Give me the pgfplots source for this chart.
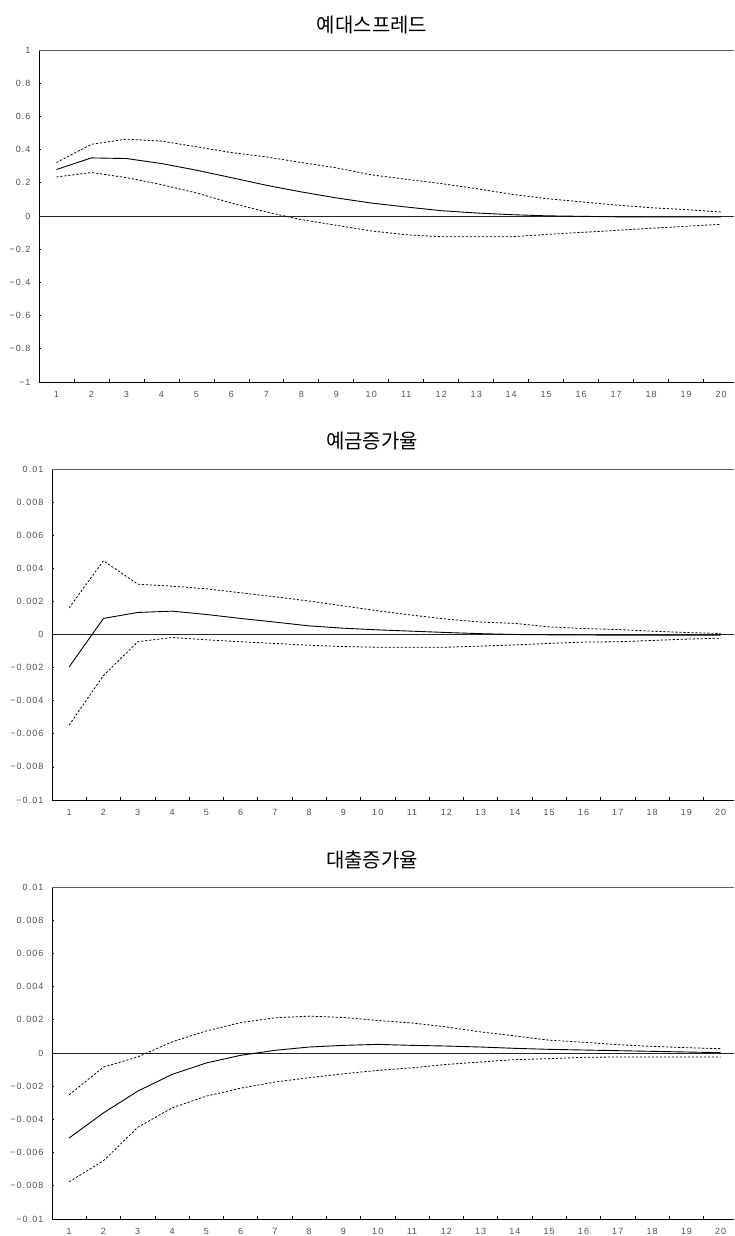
\documentclass[border=0pt]{standalone}
\usepackage{fontspec}
\usepackage{pgfplots}
\usepackage{pgfplotstable}
\pgfplotsset{compat=1.18}
\setmainfont{Liberation Sans}
\newfontfamily\tickfont[LetterSpace=12]{Liberation Sans}
\newfontfamily\krfont{Noto Sans CJK KR}
\definecolor{ticklab}{HTML}{505050}
\definecolor{topline}{HTML}{606060}

\pgfplotstableread{
x c u l
1 0.280 0.322 0.235
2 0.350 0.432 0.262
3 0.346 0.463 0.231
4 0.316 0.451 0.189
5 0.276 0.417 0.139
6 0.231 0.382 0.078
7 0.185 0.356 0.024
8 0.145 0.322 -0.022
9 0.109 0.290 -0.056
10 0.078 0.248 -0.090
11 0.054 0.221 -0.113
12 0.032 0.195 -0.125
13 0.018 0.165 -0.125
14 0.008 0.131 -0.125
15 0.001 0.105 -0.111
16 -0.002 0.085 -0.099
17 -0.005 0.066 -0.087
18 -0.006 0.050 -0.074
19 -0.006 0.038 -0.062
20 -0.006 0.024 -0.050
}\spread

\pgfplotstableread{
x c u l
1 -0.00196 0.00161 -0.00548
2 0.00097 0.00446 -0.00248
3 0.00133 0.00304 -0.00044
4 0.00141 0.00292 -0.00018
5 0.00121 0.00276 -0.00032
6 0.00097 0.00252 -0.00044
7 0.00075 0.00228 -0.00054
8 0.00052 0.00202 -0.00065
9 0.00038 0.00173 -0.00073
10 0.00028 0.00143 -0.00077
11 0.00020 0.00117 -0.00077
12 0.00012 0.00093 -0.00077
13 0.00005 0.00075 -0.00070
14 0.00000 0.00067 -0.00063
15 -0.00002 0.00046 -0.00054
16 -0.00003 0.00036 -0.00046
17 -0.00004 0.00030 -0.00044
18 -0.00004 0.00020 -0.00036
19 -0.00004 0.00012 -0.00028
20 -0.00004 0.00006 -0.00022
}\deposit

\pgfplotstableread{
x c u l
1 -0.00512 -0.00252 -0.00776
2 -0.00361 -0.00085 -0.00649
3 -0.00230 -0.00024 -0.00448
4 -0.00129 0.00067 -0.00331
5 -0.00060 0.00133 -0.00260
6 -0.00014 0.00183 -0.00212
7 0.00016 0.00212 -0.00175
8 0.00036 0.00222 -0.00149
9 0.00046 0.00214 -0.00125
10 0.00052 0.00196 -0.00105
11 0.00046 0.00181 -0.00089
12 0.00042 0.00157 -0.00069
13 0.00036 0.00127 -0.00054
14 0.00028 0.00103 -0.00040
15 0.00022 0.00077 -0.00034
16 0.00018 0.00065 -0.00026
17 0.00014 0.00050 -0.00024
18 0.00010 0.00040 -0.00024
19 0.00006 0.00032 -0.00024
20 0.00002 0.00026 -0.00024
}\loan

\pgfplotsset{
  irf/.style={
    anchor=south west,
    scale only axis,
    separate axis lines,
    axis x line*=bottom,
    axis y line*=left,
    axis line style={black, line width=0.9pt},
    tick align=inside,
    major tick length=2.5pt,
    xmin=0.5,
    xtick={1.5,2.5,...,19.5},
    xticklabels={},
    extra x ticks={1,2,...,20},
    extra x tick labels={1,2,3,4,5,6,7,8,9,10,11,12,13,14,15,16,17,18,19,20},
    extra x tick style={major tick length=0pt},
    tick style={black, line width=0.7pt},
    scaled y ticks=false,
    ticklabel style={font=\tickfont\fontsize{9}{10}\selectfont, text=ticklab},
    x tick label style={yshift=-5.5pt},
    y tick label style={xshift=-5pt},
    clip=false,
  },
  cen/.style={black, line width=0.9pt, no marks},
  band/.style={black, line width=0.8pt, dash pattern=on 2.2pt off 1.8pt, no marks},
  zer/.style={black!85, line width=0.8pt, no marks},
}

\begin{document}
\begin{tikzpicture}
\useasboundingbox (0pt,0pt) rectangle (734pt,1236pt);

% Panel 1
\begin{axis}[irf, at={(39pt,854pt)}, width=695pt, height=332pt,
  xmax=20.37, ymin=-1, ymax=1,
  ytick={-1,-0.8,-0.6,-0.4,-0.2,0,0.2,0.4,0.6,0.8,1},
  yticklabels={−1,−0.8,−0.6,−0.4,−0.2,0,0.2,0.4,0.6,0.8,1}]
\addplot[zer] coordinates {(0.5,0) (20.37,0)};
\addplot[band] table[x=x,y=u] {\spread};
\addplot[band] table[x=x,y=l] {\spread};
\addplot[cen] table[x=x,y=c] {\spread};
\draw[topline, line width=0.8pt] (rel axis cs:0,1) -- (rel axis cs:1,1);
\end{axis}

% Panel 2
\begin{axis}[irf, at={(52pt,436pt)}, width=682pt, height=331pt,
  xmax=20.39, ymin=-0.01, ymax=0.01,
  ytick={-0.01,-0.008,-0.006,-0.004,-0.002,0,0.002,0.004,0.006,0.008,0.01},
  yticklabels={−0.01,−0.008,−0.006,−0.004,−0.002,0,0.002,0.004,0.006,0.008,0.01}]
\addplot[zer] coordinates {(0.5,0) (20.39,0)};
\addplot[band] table[x=x,y=u] {\deposit};
\addplot[band] table[x=x,y=l] {\deposit};
\addplot[cen] table[x=x,y=c] {\deposit};
\draw[topline, line width=0.8pt] (rel axis cs:0,1) -- (rel axis cs:1,1);
\end{axis}

% Panel 3
\begin{axis}[irf, at={(52pt,17pt)}, width=682pt, height=332pt,
  xmax=20.39, ymin=-0.01, ymax=0.01,
  ytick={-0.01,-0.008,-0.006,-0.004,-0.002,0,0.002,0.004,0.006,0.008,0.01},
  yticklabels={−0.01,−0.008,−0.006,−0.004,−0.002,0,0.002,0.004,0.006,0.008,0.01}]
\addplot[zer] coordinates {(0.5,0) (20.39,0)};
\addplot[band] table[x=x,y=u] {\loan};
\addplot[band] table[x=x,y=l] {\loan};
\addplot[cen] table[x=x,y=c] {\loan};
\draw[topline, line width=0.8pt] (rel axis cs:0,1) -- (rel axis cs:1,1);
\end{axis}

\node at (372pt,1211pt) {\krfont\fontsize{20}{22}\selectfont 예대스프레드};
\node at (372pt,795pt) {\krfont\fontsize{20}{22}\selectfont 예금증가율};
\node at (372pt,376pt) {\krfont\fontsize{20}{22}\selectfont 대출증가율};
\end{tikzpicture}
\end{document}
